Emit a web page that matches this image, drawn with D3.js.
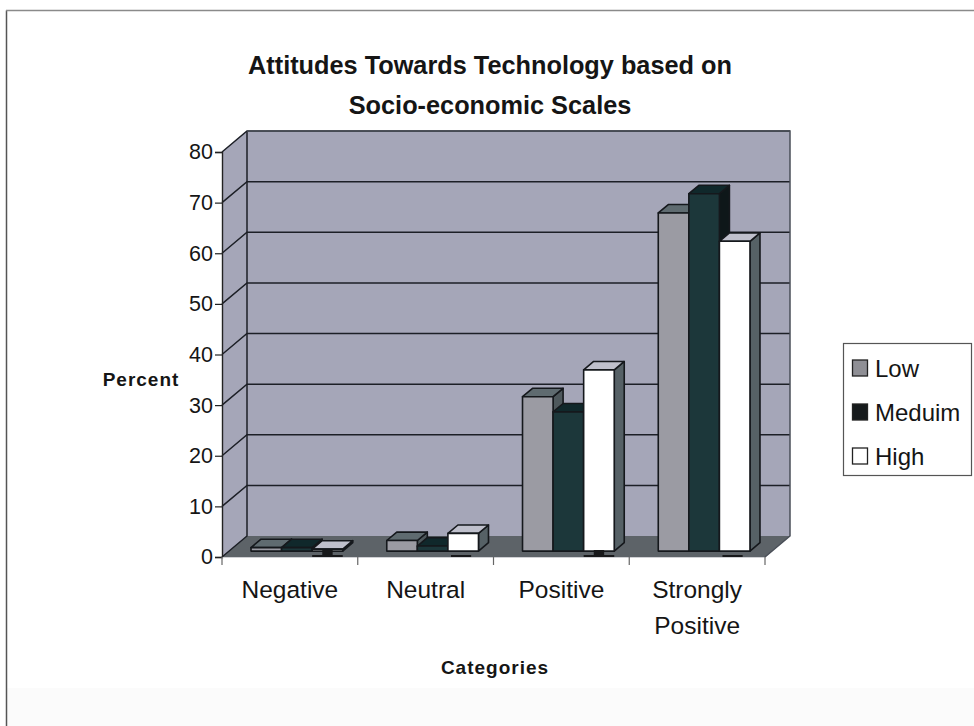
<!DOCTYPE html>
<html>
<head>
<meta charset="utf-8">
<script src="https://cdn.jsdelivr.net/npm/d3@7/dist/d3.min.js"></script>
<style>
  html, body { margin: 0; padding: 0; background: #fff; }
  svg { display: block; }
  text { font-family: "Liberation Sans", Arial, sans-serif; fill: #151515; }
</style>
</head>
<body>
<svg id="chart" width="974" height="726"></svg>
<script>
const categories = ["Negative", "Neutral", "Positive", "Strongly Positive"];
const seriesNames = ["Low", "Meduim", "High"];
const lowValues = [0.7, 2.1, 30.5, 66.8];
const mediumValues = [0.7, 1.0, 27.5, 70.6];
const highValues = [0.4, 3.5, 35.8, 61.2];
const yTicks = [0, 10, 20, 30, 40, 50, 60, 70, 80];
const titleLines = ["Attitudes Towards Technology based on", "Socio-economic Scales"];

const seriesValues = [lowValues, mediumValues, highValues];
const seriesFill = [
  { front: "#9b9ba3", top: "#5f6b70", side: "#4e585c", key: "#8f8f95" },
  { front: "#1c373a", top: "#10282b", side: "#0e1719", key: "#161a1c" },
  { front: "#ffffff", top: "#bfc0cc", side: "#566166", key: "#ffffff" }
];

const svg = d3.select("#chart");
const frontLeft = 222, frontRight = 765, frontBottom = 557, frontTop = 152;
const depthX = 25, depthY = -21;

const x = d3.scaleBand().domain(categories).range([frontLeft, frontRight]);
const y = d3.scaleLinear().domain([0, 80]).range([frontBottom, frontTop]);
const inner = d3.scaleBand().domain(d3.range(seriesNames.length))
  .range([0, x.step()]).paddingInner(0).paddingOuter(0.72);

// Oblique projection: z = 0 is the front of the floor, z = 1 the back wall.
const px = (sx, z) => sx + z * depthX;
const py = (sy, z) => sy + z * depthY;
const poly = pts => pts.map(p => p.join(",")).join(" ");

// Page furniture: scanned frame and the slightly grey foot of the sheet
svg.append("rect").attr("x", 7).attr("y", 688).attr("width", 967).attr("height", 38).attr("fill", "#fbfbfb");
svg.append("path").attr("d", "M6.5,726V10.5").attr("fill", "none").attr("stroke", "#555").attr("stroke-width", 1.5);
svg.append("path").attr("d", "M6,10.5H974").attr("fill", "none").attr("stroke", "#8a8a8a").attr("stroke-width", 1.5);

// Walls and floor
const wallFill = "#a5a6b8", edge = "#4a4f58";
const plot = svg.append("g");
plot.append("polygon").attr("fill", wallFill).attr("points", poly([
  [frontLeft, frontTop], [px(frontLeft, 1), py(frontTop, 1)],
  [px(frontLeft, 1), py(frontBottom, 1)], [frontLeft, frontBottom]
]));
plot.append("rect").attr("fill", wallFill)
  .attr("x", px(frontLeft, 1)).attr("y", py(frontTop, 1))
  .attr("width", frontRight - frontLeft).attr("height", frontBottom - frontTop);
plot.append("polygon").attr("fill", "#5d6368").attr("points", poly([
  [frontLeft, frontBottom], [frontRight, frontBottom],
  [px(frontRight, 1), py(frontBottom, 1)], [px(frontLeft, 1), py(frontBottom, 1)]
]));

// Gridlines run along the left wall and across the back wall
const grid = plot.append("g").attr("fill", "none").attr("stroke", "#1c1f26").attr("stroke-width", 1.5);
yTicks.filter(t => t > 0).forEach(t => {
  grid.append("path").attr("d", d3.line()([
    [frontLeft, y(t)], [px(frontLeft, 1), py(y(t), 1)], [px(frontRight, 1), py(y(t), 1)]
  ]));
});
grid.append("path").attr("d", d3.line()([
  [frontLeft, y(0)], [px(frontLeft, 1), py(y(0), 1)], [px(frontLeft, 1), py(y(80), 1)]
]));
plot.append("path").attr("fill", "none").attr("stroke", edge).attr("stroke-width", 1.5).attr("d", d3.line()([
  [px(frontLeft, 1), py(y(80), 1)], [px(frontRight, 1), py(y(80), 1)],
  [px(frontRight, 1), py(y(0), 1)], [frontRight, y(0)]
]));

// Bars: each one is a front face with a top and a side, drawn left to right in depth order
const barNear = 0.28, barFar = 0.68;
const bars = svg.append("g").attr("stroke", "#15181c").attr("stroke-width", 1.6).attr("stroke-linejoin", "round");
categories.forEach((cat, c) => {
  seriesValues.forEach((vals, s) => {
    const x0 = x(cat) + inner(s), x1 = x0 + inner.bandwidth();
    const y0 = y(0), yt = y(vals[c]);
    const f = seriesFill[s];
    const g = bars.append("g");
    g.append("polygon").attr("fill", f.side).attr("points", poly([
      [px(x1, barNear), py(yt, barNear)], [px(x1, barFar), py(yt, barFar)],
      [px(x1, barFar), py(y0, barFar)], [px(x1, barNear), py(y0, barNear)]
    ]));
    g.append("polygon").attr("fill", f.top).attr("points", poly([
      [px(x0, barNear), py(yt, barNear)], [px(x1, barNear), py(yt, barNear)],
      [px(x1, barFar), py(yt, barFar)], [px(x0, barFar), py(yt, barFar)]
    ]));
    g.append("polygon").attr("fill", f.front).attr("points", poly([
      [px(x0, barNear), py(yt, barNear)], [px(x1, barNear), py(yt, barNear)],
      [px(x1, barNear), py(y0, barNear)], [px(x0, barNear), py(y0, barNear)]
    ]));
  });
});

// Dark print marks along the floor edge, below the third bar of each group
const inkMarks = svg.append("g").attr("fill", "#17181a");
categories.forEach((cat, c) => {
  const left = px(x(cat) + inner(2), barNear);
  const w = inner.bandwidth();
  const wide = c % 2 === 0;
  inkMarks.append("rect").attr("x", wide ? left : left + w * 0.1).attr("y", y(0) - 2)
    .attr("width", wide ? w : w * 0.66).attr("height", 2.5);
  if (wide) {
    inkMarks.append("rect").attr("x", left + w * 0.33).attr("y", y(0) - 7).attr("width", w * 0.34).attr("height", 5);
  }
});

// Value axis on the front edge of the left wall
const yAxis = svg.append("g").attr("transform", `translate(${frontLeft},0)`)
  .call(d3.axisLeft(y).tickValues(yTicks).tickSize(7).tickPadding(2));
yAxis.select(".domain").attr("stroke", "#222").attr("stroke-width", 1.4);
yAxis.selectAll(".tick line").attr("stroke", "#222").attr("stroke-width", 1.2);
yAxis.selectAll("text").style("font-size", "21.5px").attr("fill", "#151515")
  .attr("font-family", null);

// Category axis: labels in the band centres, ticks on the band boundaries
const xAxis = svg.append("g").attr("transform", `translate(0,${frontBottom})`)
  .call(d3.axisBottom(x).tickSize(0).tickPadding(0));
xAxis.select(".domain").attr("stroke", "#cfd0d4").attr("stroke-width", 1);
xAxis.selectAll(".tick text").each(function (d) {
  const words = d.split(" ");
  const t = d3.select(this).text(null).style("font-size", "24.5px").attr("y", 0).attr("dy", null).attr("fill", "#151515");
  words.forEach((w, i) => {
    t.append("tspan").attr("x", 0).attr("y", 41 + i * 36).text(w);
  });
});
xAxis.selectAll(".edge").data(d3.range(categories.length + 1)).join("line").attr("class", "edge")
  .attr("x1", i => frontLeft + i * x.step()).attr("x2", i => frontLeft + i * x.step())
  .attr("y1", 0).attr("y2", 8).attr("stroke", "#666").attr("stroke-width", 1.2);

// Titles
svg.append("g").selectAll("text").data(titleLines).join("text")
  .attr("x", 490).attr("y", (d, i) => 74 + i * 40)
  .attr("text-anchor", "middle").attr("font-weight", "bold").attr("font-size", 25.3)
  .text(d => d);
svg.append("text").attr("x", 141).attr("y", 386).attr("text-anchor", "middle")
  .attr("font-weight", "bold").attr("font-size", 19).attr("letter-spacing", 1).text("Percent");
svg.append("text").attr("x", 495).attr("y", 674).attr("text-anchor", "middle")
  .attr("font-weight", "bold").attr("font-size", 19).attr("letter-spacing", 1).text("Categories");

// Legend
const legend = svg.append("g");
legend.append("rect").attr("x", 843.5).attr("y", 343.5).attr("width", 128).attr("height", 132)
  .attr("fill", "#fff").attr("stroke", "#555").attr("stroke-width", 1.2);
const legendRow = d3.scalePoint().domain(seriesNames).range([368, 456]);
seriesNames.forEach((name, s) => {
  legend.append("rect").attr("x", 852.5).attr("y", legendRow(name) - 8).attr("width", 15).attr("height", 16)
    .attr("fill", seriesFill[s].key).attr("stroke", "#222").attr("stroke-width", 1.3);
  legend.append("text").attr("x", 875).attr("y", legendRow(name) + 8.5).attr("font-size", 24).text(name);
});
</script>
</body>
</html>
